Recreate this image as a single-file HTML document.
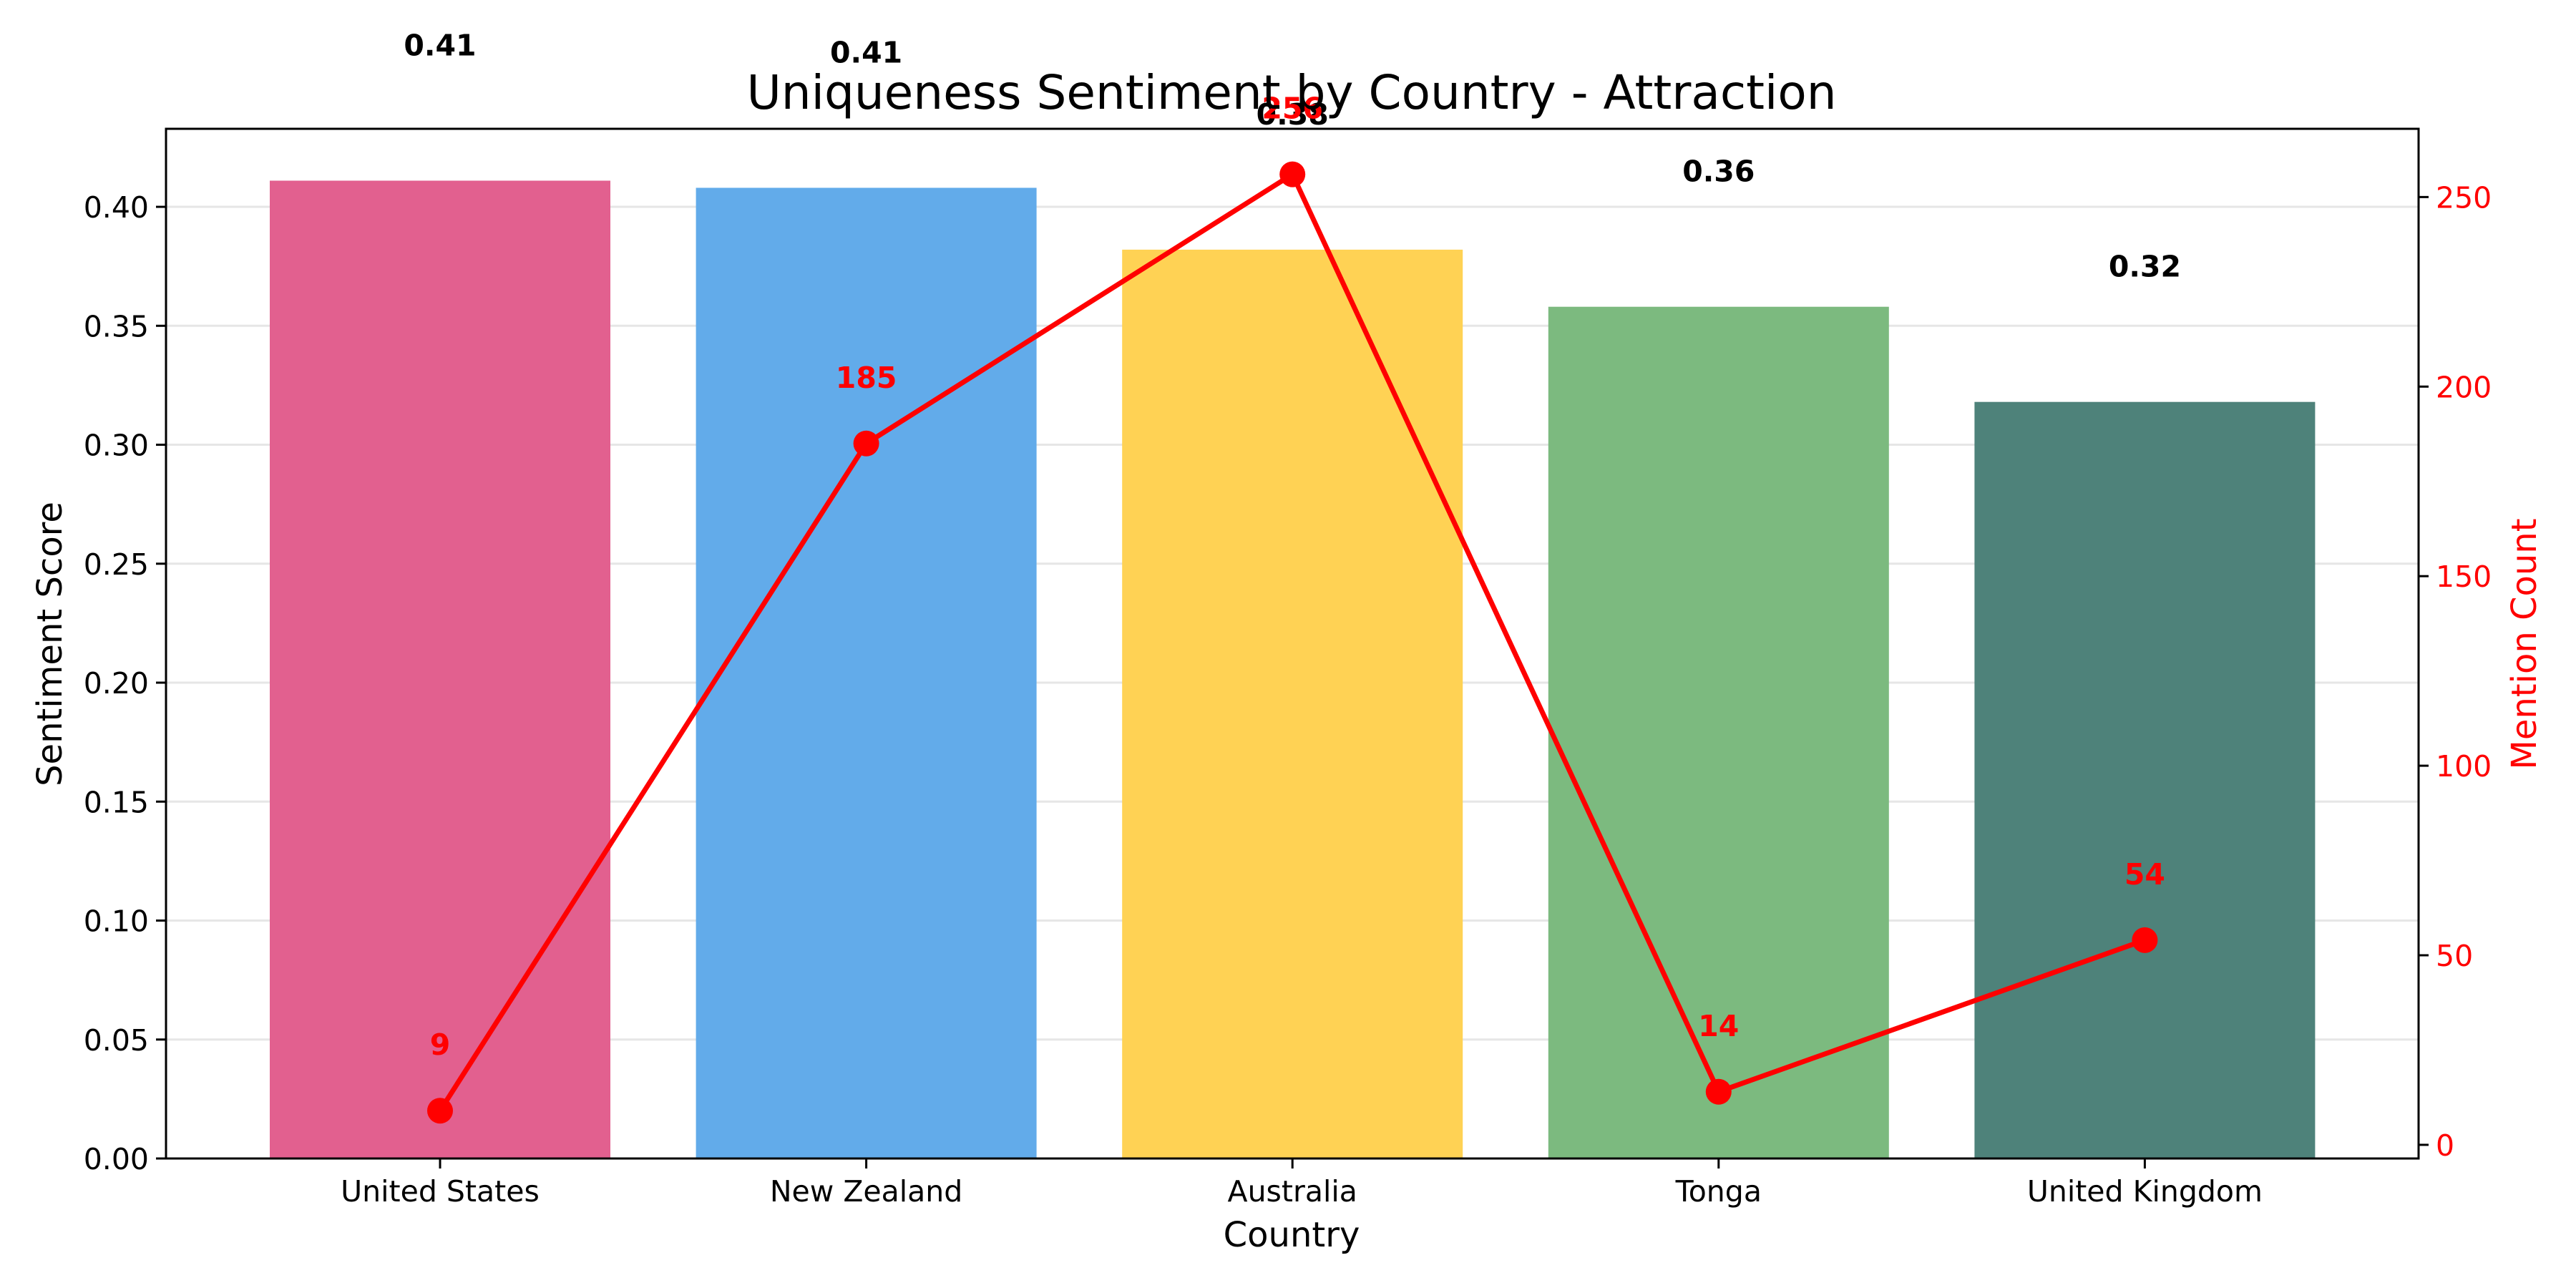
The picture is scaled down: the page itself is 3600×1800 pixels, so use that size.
<!DOCTYPE html>
<html><head><meta charset="utf-8"><style>
html,body{margin:0;padding:0;background:#fff}
svg{display:block;font-family:"DejaVu Sans","Liberation Sans",sans-serif}
</style></head><body>
<svg id="chart" width="3600" height="1800" viewBox="0 0 3600 1800">
<g id="grid"></g>
<g id="bars"></g>
<g id="line"></g>
<g id="axes"></g>
<g id="labels"></g>
<text x="1805" y="152" font-size="66" text-anchor="middle">Uniqueness Sentiment by Country - Attraction</text>
<text x="1805" y="1742" font-size="48" text-anchor="middle">Country</text>
<text x="86" y="900" font-size="48" text-anchor="middle" transform="rotate(-90 86 900)">Sentiment Score</text>
<text x="3544" y="900" font-size="48" fill="#ff0000" text-anchor="middle" transform="rotate(-90 3544 900)">Mention Count</text>
</svg>
<script>
const categories = ["United States","New Zealand","Australia","Tonga","United Kingdom"];
const sentiment = [0.411, 0.408, 0.382, 0.358, 0.318];
const sentimentLabels = ["0.41","0.41","0.38","0.36","0.32"];
const mentions = [9, 185, 256, 14, 54];
const leftTicks = [0,0.05,0.10,0.15,0.20,0.25,0.30,0.35,0.40];
const rightTicks = [0,50,100,150,200,250];
const colors = ["#e2608f","#62abea","#ffd254","#7cba7f","#4e827a"];

const NS="http://www.w3.org/2000/svg";
const L=232,R=3380,T=180,B=1619;
const yL=v=>B-(v-0)/(0.4328-0)*(B-T);
const yR=v=>B-(v-(-3.6))/(268-(-3.6))*(B-T);
const xC=i=>615+595.6*i;
const bw=476;
function mk(tag,attrs,parent,text){const e=document.createElementNS(NS,tag);for(const k in attrs)e.setAttribute(k,attrs[k]);if(text!==undefined)e.textContent=text;parent.appendChild(e);return e;}
const grid=document.getElementById('grid'),bars=document.getElementById('bars'),line=document.getElementById('line'),axes=document.getElementById('axes'),labels=document.getElementById('labels');

leftTicks.forEach(t=>{
  const g=mk('line',{x1:L,x2:R,y1:yL(t),y2:yL(t),stroke:'#e6e6e6','stroke-width':3},grid);
  
  
  const tk=mk('line',{x1:L-14,x2:L,y1:yL(t),y2:yL(t),stroke:'#000','stroke-width':3},axes);
  
  
  const tl=mk('text',{x:L-24,y:yL(t)+15,'font-size':41,'text-anchor':'end'},axes,t.toFixed(2));
  
  
});
rightTicks.forEach(t=>{
  const tk=mk('line',{x1:R,x2:R+14,y1:yR(t),y2:yR(t),stroke:'#000','stroke-width':3},axes);
  
  
  const tl=mk('text',{x:R+24,y:yR(t)+15,'font-size':41,fill:'#ff0000'},axes,String(t));
  
  
});
categories.forEach((c,i)=>{
  const b=mk('rect',{x:xC(i)-bw/2,y:yL(sentiment[i]),width:bw,height:B-yL(sentiment[i]),fill:colors[i]},bars);
  
  
  const tk=mk('line',{x1:xC(i),x2:xC(i),y1:B,y2:B+14,stroke:'#000','stroke-width':3},axes);
  
  
  const tl=mk('text',{x:xC(i),y:B+60,'font-size':41,'text-anchor':'middle'},axes,c);
  
  
  const vl=mk('text',{x:xC(i),y:yL(sentiment[i])-175,'font-size':41,'font-weight':'bold','text-anchor':'middle'},labels,sentimentLabels[i]);
  
  
});
const pts=mentions.map((m,i)=>xC(i)+','+yR(m)).join(' ');
const pl=mk('polyline',{points:pts,fill:'none',stroke:'#ff0000','stroke-width':7,'stroke-linejoin':'round'},line);


mentions.forEach((m,i)=>{
  const c=mk('circle',{cx:xC(i),cy:yR(m),r:18,fill:'#ff0000'},line);
  
  
  const t=mk('text',{x:xC(i),y:yR(m)-78,'font-size':41,'font-weight':'bold',fill:'#ff0000','text-anchor':'middle'},labels,String(m));
  
  
});
const frame=mk('rect',{x:L,y:T,width:R-L,height:B-T,fill:'none',stroke:'#000','stroke-width':3},axes);


</script>
</body></html>
